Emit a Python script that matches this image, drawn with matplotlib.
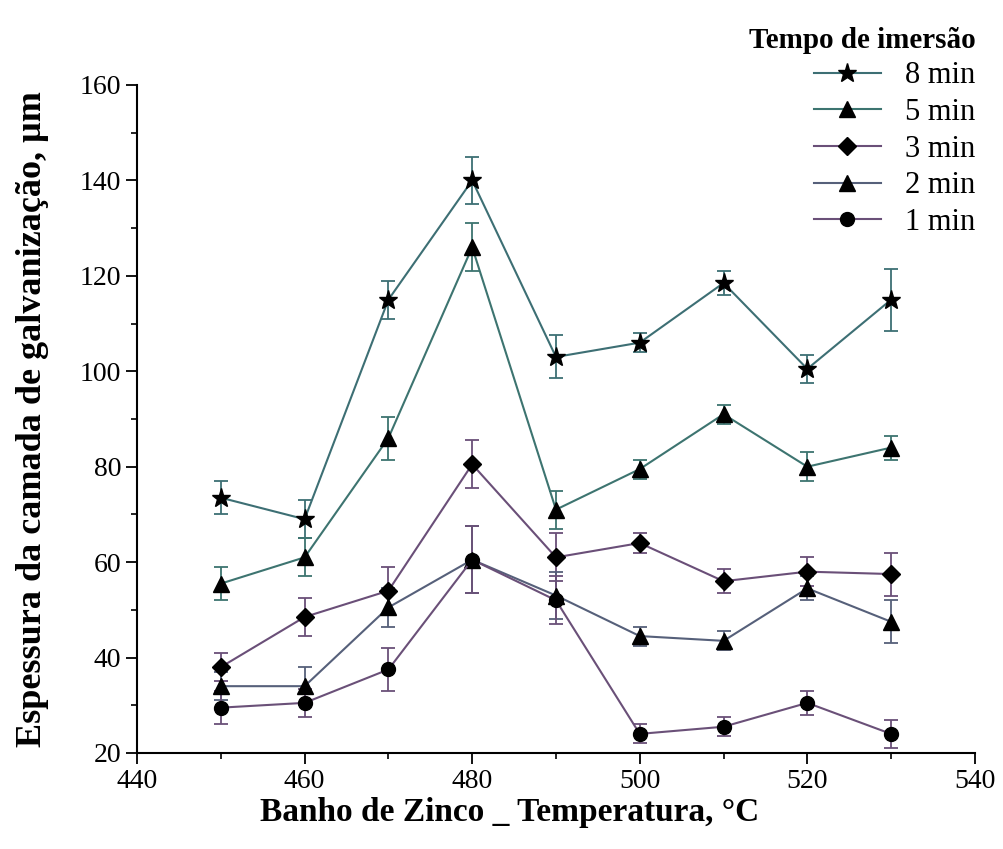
import matplotlib.pyplot as plt
from matplotlib.ticker import MultipleLocator

plt.rcParams['font.family'] = ['Liberation Serif', 'DejaVu Serif']

temps = [450, 460, 470, 480, 490, 500, 510, 520, 530]

min8 = [73.5, 69, 115, 140, 103, 106, 118.5, 100.5, 115]
err8 = [3.5, 4, 4, 5, 4.5, 2, 2.5, 3, 6.5]
min5 = [55.5, 61, 86, 126, 71, 79.5, 91, 80, 84]
err5 = [3.5, 4, 4.5, 5, 4, 2, 2, 3, 2.5]
min3 = [38, 48.5, 54, 80.5, 61, 64, 56, 58, 57.5]
err3 = [3, 4, 5, 5, 5, 2, 2.5, 3, 4.5]
min2 = [34, 34, 50.5, 60.5, 53, 44.5, 43.5, 54.5, 47.5]
err2 = [3, 4, 4, 7, 5, 2, 2, 2.5, 4.5]
min1 = [29.5, 30.5, 37.5, 60.5, 52, 24, 25.5, 30.5, 24]
err1 = [3.5, 3, 4.5, 7, 5, 2, 2, 2.5, 3]

series = [
    ('8 min', min8, err8, '*', '#3d6f74', 14),
    ('5 min', min5, err5, '^', '#3d7470', 12),
    ('3 min', min3, err3, 'D', '#6a4f78', 9),
    ('2 min', min2, err2, '^', '#56607a', 12),
    ('1 min', min1, err1, 'o', '#6a5078', 10),
]

fig = plt.figure(figsize=(10.04, 8.49), dpi=100)
ax = fig.add_axes([0.1365, 0.1131, 0.8345, 0.7868])

handles = []
for name, vals, errs, mk, col, ms in series:
    c = ax.errorbar(temps, vals, yerr=errs, marker=mk, color=col, mfc='black',
                    mec='black', ms=ms, lw=1.5, elinewidth=1.3, capsize=5,
                    capthick=1.3, ecolor=col, label=name)
    handles.append(c[0])

ax.set_xlim(440, 540)
ax.set_ylim(20, 160)
ax.xaxis.set_major_locator(MultipleLocator(20))
ax.xaxis.set_minor_locator(MultipleLocator(10))
ax.yaxis.set_major_locator(MultipleLocator(20))
ax.yaxis.set_minor_locator(MultipleLocator(10))
ax.tick_params(which='major', direction='out', length=8, width=1.3, labelsize=20)
ax.tick_params(which='minor', direction='out', length=4, width=1.2)
ax.spines['top'].set_visible(False)
ax.spines['right'].set_visible(False)
ax.spines['left'].set_linewidth(1.5)
ax.spines['bottom'].set_linewidth(1.5)

ax.set_xlabel('Banho de Zinco _ Temperatura, °C', fontsize=24, fontweight='bold',
              labelpad=2, x=0.445)
ax.set_ylabel('Espessura da camada de galvanização, µm', fontsize=26, fontweight='bold',
              labelpad=22)

leg = fig.legend(handles=handles, labels=[s[0] for s in series],
                 loc='upper right', bbox_to_anchor=(0.99, 0.99), frameon=False,
                 fontsize=22, title='Tempo de imersão',
                 title_fontproperties={'weight': 'bold', 'size': 21},
                 handlelength=2.2, labelspacing=0.25, borderaxespad=0.2)
leg._legend_box.align = 'right'

fig.savefig('out.png', dpi=100)
